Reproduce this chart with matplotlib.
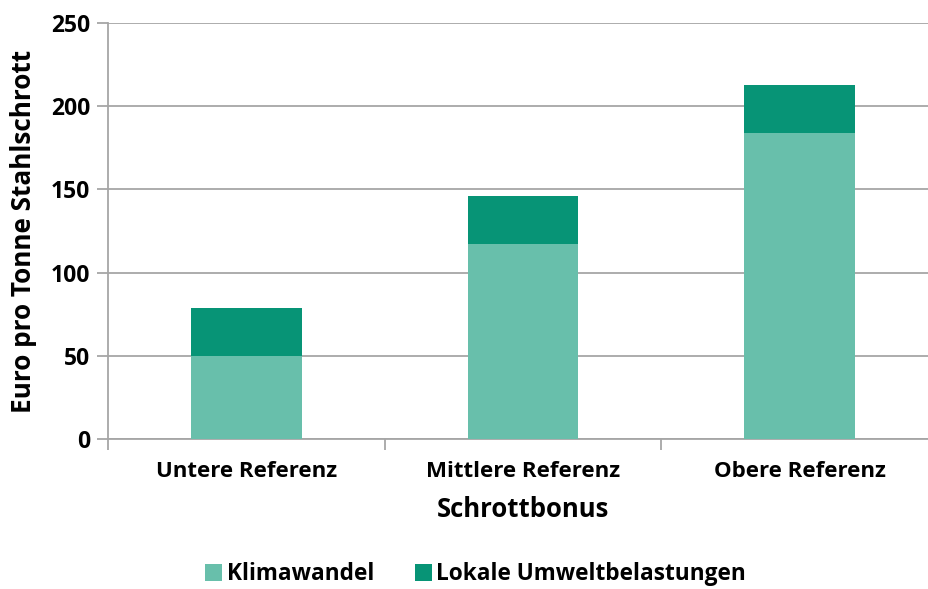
import numpy as np
import matplotlib
matplotlib.use("Agg")
from matplotlib import pyplot as plt

categories = ["Untere Referenz", "Mittlere Referenz", "Obere Referenz"]
klimawandel = [50, 117, 184]
lokal = [29, 29, 29]
series_names = ["Klimawandel", "Lokale Umweltbelastungen"]
yticks = [0, 50, 100, 150, 200, 250]

c_light = "#68bfab"
c_dark = "#079476"
grid_c = "#a6a6a6"

plt.rcParams["font.family"] = ["Open Sans", "DejaVu Sans"]
plt.rcParams["font.weight"] = "bold"

fig = plt.figure(figsize=(9.29, 5.89), dpi=100)
ax = fig.add_axes([108/929, 1 - 439/589, 830/929, 416/589])

x = np.arange(len(categories))
b1 = ax.bar(x, klimawandel, width=0.4, color=c_light, zorder=3)
b2 = ax.bar(x, lokal, width=0.4, bottom=klimawandel, color=c_dark, zorder=3)

ax.set_xlim(-0.5, 2.5)
ax.set_ylim(0, 250)
ax.set_yticks(yticks)
ax.set_yticklabels([str(v) for v in yticks], fontsize=16.5, fontweight="bold")
ax.yaxis.grid(True, color=grid_c, linewidth=1.3, zorder=0)
ax.set_axisbelow(True)

# category labels between boundary ticks
ax.set_xticks([-0.5, 0.5, 1.5, 2.5])
ax.set_xticklabels([])
ax.set_xticks(x, minor=True)
ax.set_xticklabels(categories, minor=True, fontsize=16, fontweight="bold")
ax.tick_params(axis="x", which="minor", length=0, pad=16)
ax.tick_params(axis="x", which="major", length=8, color=grid_c, width=1.3)
ax.tick_params(axis="y", length=8, color=grid_c, width=1.3, pad=5)

for s in ["top", "right"]:
    ax.spines[s].set_visible(False)
for s in ["left", "bottom"]:
    ax.spines[s].set_color(grid_c)
    ax.spines[s].set_linewidth(1.3)

ax.set_ylabel("Euro pro Tonne Stahlschrott", fontsize=18.8, fontweight="bold", labelpad=10)
ax.set_xlabel("Schrottbonus", fontsize=18.5, fontweight="bold", labelpad=10)

fig.legend([b1, b2], series_names, loc="lower center", ncol=2, frameon=False,
           bbox_to_anchor=(0.512, -0.03), fontsize=16.3, handlelength=0.75, handleheight=0.75,
           columnspacing=1.8, handletextpad=0.2)

fig.savefig("out.png", dpi=100)
